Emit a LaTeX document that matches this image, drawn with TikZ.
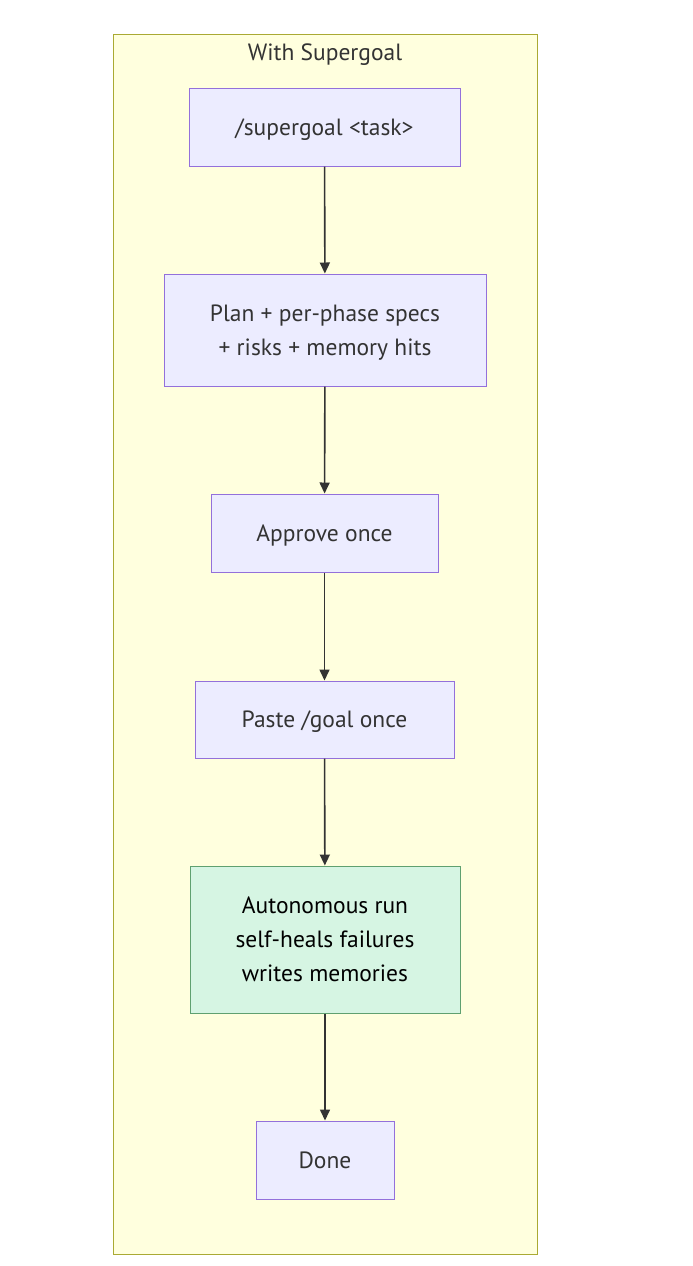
\documentclass[tikz,border=0pt]{standalone}
\usepackage{fontspec}
\setmainfont{PT Sans}
\usetikzlibrary{arrows.meta}
\definecolor{clusterfill}{HTML}{FFFFDE}
\definecolor{clusterline}{HTML}{AAAA33}
\definecolor{nodefill}{HTML}{ECECFF}
\definecolor{nodeline}{HTML}{9370DB}
\definecolor{greenfill}{HTML}{D6F5E3}
\definecolor{greenline}{HTML}{5FA070}
\definecolor{txt}{HTML}{333333}
\tikzset{
  box/.style={draw=nodeline, fill=nodefill, line width=1pt, text=txt, align=center,
    inner sep=0pt, text depth=0pt, font=\fontsize{23.5}{34}\selectfont},
  greenbox/.style={box, draw=greenline, fill=greenfill, text=black},
  arr/.style={draw=txt, line width=1.6pt, -{Triangle[length=11pt,width=10pt]}},
}
\begin{document}
\begin{tikzpicture}[x=1pt,y=-1pt]
\useasboundingbox (0,0) rectangle (693,1266);
\fill[white] (0,0) rectangle (693,1266);
\draw[draw=clusterline, fill=clusterfill, line width=1pt] (113,34) rectangle (537,1254);
\node[text=txt, font=\fontsize{23.5}{25}\selectfont] (title) at (325,54.5) {With Supergoal};
\node[box, minimum width=271, minimum height=78] (n1) at (324.5,127) {/supergoal <task>};
\node[box, minimum width=322, minimum height=112] (n2) at (325,330) {Plan + per-phase specs\\+ risks + memory hits};
\node[box, minimum width=227, minimum height=78] (n3) at (324.5,533) {Approve once};
\node[box, minimum width=259, minimum height=77] (n4) at (324.5,719.5) {Paste /goal once};
\node[greenbox, minimum width=270, minimum height=147] (n5) at (325,939.5) {Autonomous run\\self-heals failures\\writes memories};
\node[box, minimum width=138, minimum height=78] (n6) at (325,1160) {Done};
\draw[arr] (n1) -- (n2);
\draw[arr] (n2) -- (n3);
\draw[arr] (n3) -- (n4);
\draw[arr] (n4) -- (n5);
\draw[arr] (n5) -- (n6);
\end{tikzpicture}
\end{document}
